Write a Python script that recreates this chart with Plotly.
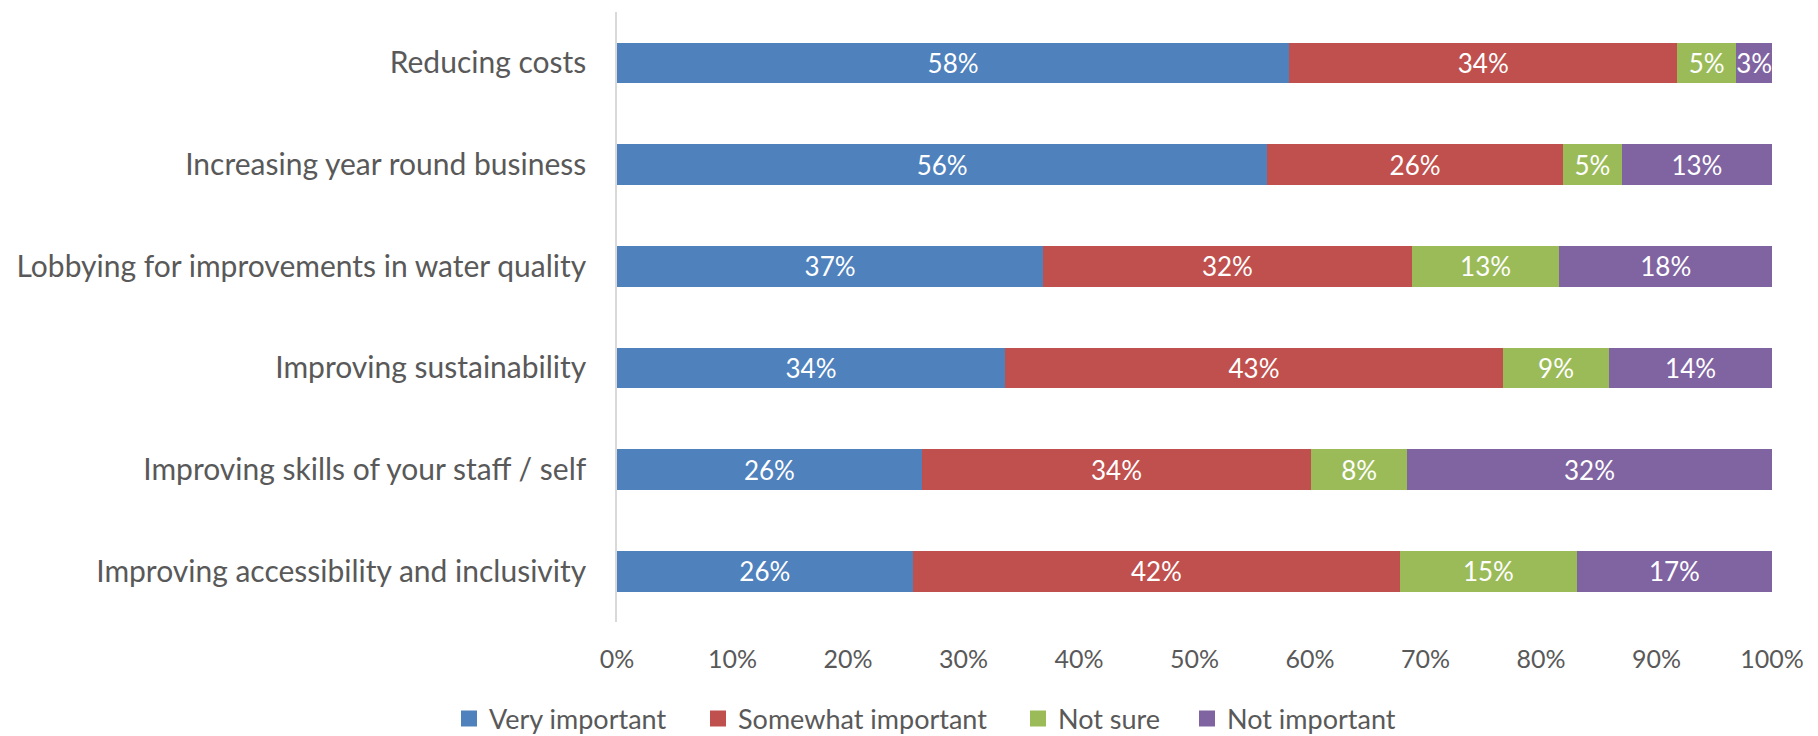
import plotly.graph_objects as go

categories = [
    "Reducing costs",
    "Increasing year round business",
    "Lobbying for improvements in water quality",
    "Improving sustainability",
    "Improving skills of your staff / self",
    "Improving accessibility and inclusivity",
]
very_important = [58.2, 56.3, 36.9, 33.6, 26.4, 25.6]
somewhat_important = [33.6, 25.6, 31.9, 43.1, 33.7, 42.2]
not_sure = [5.1, 5.1, 12.8, 9.2, 8.3, 15.3]
not_important = [3.1, 13.0, 18.4, 14.1, 31.6, 16.9]

series_names = ["Very important", "Somewhat important", "Not sure", "Not important"]
series_values = [very_important, somewhat_important, not_sure, not_important]
series_colors = ["#4F81BD", "#C0504D", "#9BBB59", "#8064A2"]

tick_vals = [0, 10, 20, 30, 40, 50, 60, 70, 80, 90, 100]
tick_text = ["0%", "10%", "20%", "30%", "40%", "50%", "60%", "70%", "80%", "90%", "100%"]

FONT = "Lato"
GREY = "#595959"

legend_ids = ["legend", "legend2", "legend3", "legend4"]
legend_left_px = [449, 698, 1018, 1187]

fig = go.Figure()
for name, vals, col in zip(series_names, series_values, series_colors):
    fig.add_trace(go.Bar(
        y=categories,
        x=vals,
        name=name,
        orientation="h",
        marker=dict(color=col, line=dict(width=0)),
        texttemplate="%{x:.0f}%",
        textposition="inside",
        insidetextanchor="middle",
        textangle=0,
        textfont=dict(family=FONT, size=26, color="white"),
        constraintext="none",
        showlegend=False,
        legendgroup=name,
    ))

# legend-only entries with larger square keys
for name, col, lid in zip(series_names, series_colors, legend_ids):
    fig.add_trace(go.Scatter(
        x=[None],
        y=[None],
        mode="markers",
        name=name,
        legendgroup=name,
        legend=lid,
        marker=dict(symbol="square", size=16, color=col),
        showlegend=True,
        hoverinfo="skip",
    ))

legend_style = dict(
    orientation="h",
    xref="container",
    yref="container",
    xanchor="left",
    y=0.023,
    yanchor="middle",
    font=dict(family=FONT, size=27, color=GREY),
    itemclick=False,
    itemdoubleclick=False,
    itemsizing="trace",
    bgcolor="rgba(0,0,0,0)",
)

layout_legends = {}
for lid, px in zip(legend_ids, legend_left_px):
    layout_legends[lid] = dict(legend_style, x=px / 1818)

fig.update_layout(
    width=1818,
    height=736,
    barmode="stack",
    bargap=0.6,
    plot_bgcolor="white",
    paper_bgcolor="white",
    margin=dict(l=617, r=46, t=12, b=114),
    uniformtext=dict(minsize=26, mode="show"),
    font=dict(family=FONT, size=27, color=GREY),
    showlegend=True,
    xaxis=dict(
        range=[0, 100],
        tickmode="array",
        tickvals=tick_vals,
        ticktext=tick_text,
        showgrid=False,
        zeroline=False,
        showline=False,
        ticks="",
        tickfont=dict(family=FONT, size=25, color=GREY),
        ticklabelstandoff=20,
        automargin=False,
        fixedrange=True,
    ),
    yaxis=dict(
        categoryorder="array",
        categoryarray=categories,
        autorange="reversed",
        showgrid=False,
        zeroline=False,
        showline=True,
        linecolor="#D9D9D9",
        linewidth=1.5,
        ticks="",
        tickfont=dict(family=FONT, size=30, color=GREY),
        ticklabelstandoff=23,
        automargin=False,
        fixedrange=True,
    ),
    **layout_legends,
)

fig.write_html("out.html")
